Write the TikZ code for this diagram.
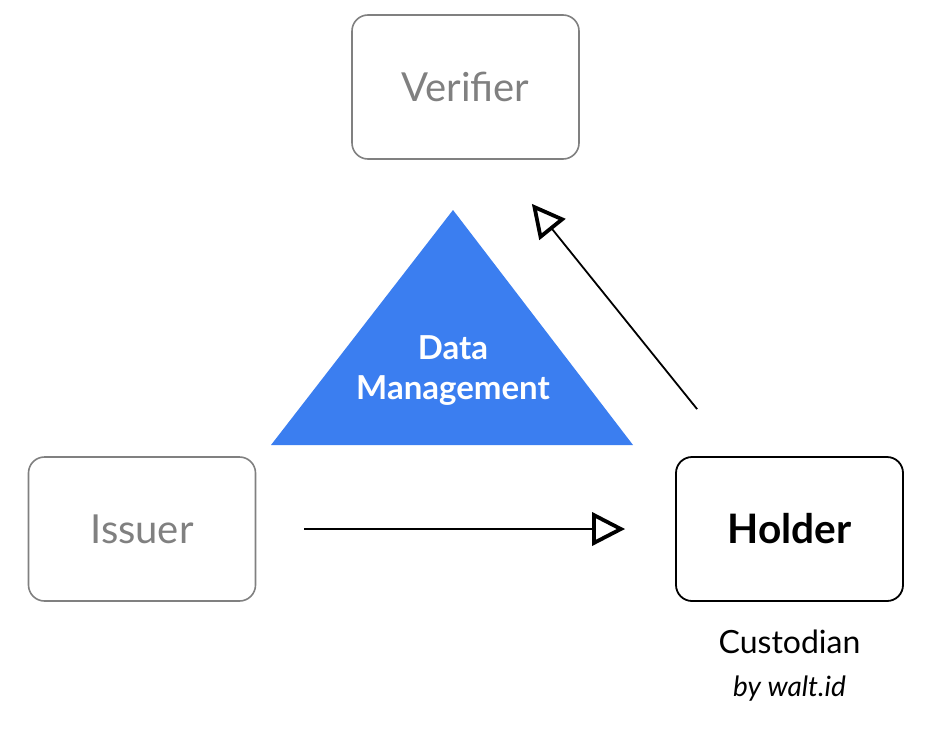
\documentclass[tikz,border=0pt]{standalone}
\usepackage{fontspec}
\setmainfont{Lato}
\usetikzlibrary{positioning,arrows.meta}

\definecolor{boxgray}{RGB}{128,128,128}
\definecolor{dmblue}{RGB}{59,126,240}

\begin{document}
\begin{tikzpicture}[
		  x=0.5pt, y=-0.5pt,
		  node distance=8pt and 0pt,
		  party/.style={draw=boxgray,line width=0.8pt,rounded corners=8pt,
		    minimum width=113.5pt,minimum height=72pt,text=boxgray,
		    font=\fontsize{20}{24}\selectfont},
		  mainparty/.style={party,draw=black,text=black,line width=0.9pt,
		    font=\fontsize{20.3}{24}\selectfont\bfseries},
		  flow/.style={line width=0.9pt,
		    -{Triangle[open,length=16.5pt,width=16.5pt,line width=1.9pt]}}
		]
		\useasboundingbox (0,0) rectangle (940,728);
		\node[party] (verifier) at (465.5,87) {Verifier};
		\node[party] (issuer) at (142,529) {Issuer};
		\node[mainparty] (holder) at (789.5,529) {Holder};
		% triangle in the middle
		\fill[dmblue] (453,210) -- (633,445) -- (271,445) -- cycle;
		\node[text=white,align=center,font=\fontsize{16.5}{20}\selectfont\bfseries]
		  (datamgmt) at (453,371) {Data\\Management};
		\node[below=10.5pt of holder,font=\fontsize{16}{19}\selectfont] (custodian) {Custodian};
		\node[below=4pt of custodian,font=\fontsize{14}{17}\selectfont\itshape] (waltid) {by walt.id};
		\coordinate (hstart) at ([shift={(22,-47)}]holder.north west);
		\coordinate (vend) at ([shift={(-48,44)}]verifier.south east);
		\path (issuer) edge[flow,shorten <=24pt,shorten >=25pt] (holder)
			(hstart) edge[flow] (vend);
		\end{tikzpicture}
\end{document}
